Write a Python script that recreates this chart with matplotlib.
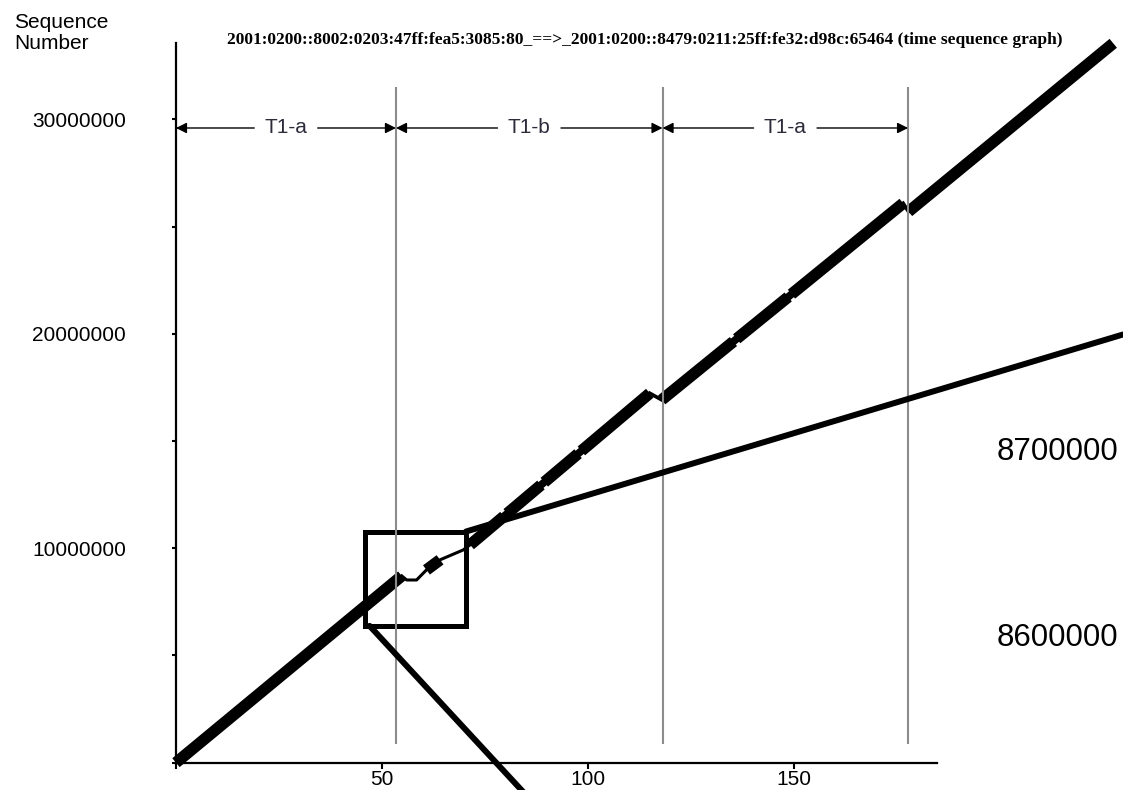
import matplotlib
matplotlib.use("Agg")
import matplotlib.pyplot as plt
from matplotlib.patches import Rectangle, ConnectionPatch

# time (s) / sequence number of the thick trace pieces
seg_time = [[0, 54.8], [60.8, 64.1],
            [71.4, 79.6], [80.4, 88.6], [89.4, 97.6], [98.4, 115.0],
            [117.9, 135.3], [136.1, 148.6], [149.4, 176.5],
            [177.8, 227.5]]
seg_seq = [[0, 8.71e6], [8.99e6, 9.46e6],
           [10.16e6, 11.49e6], [11.62e6, 12.95e6], [13.08e6, 14.41e6], [14.54e6, 17.23e6],
           [16.92e6, 19.64e6], [19.77e6, 21.72e6], [21.85e6, 26.09e6],
           [25.70e6, 33.55e6]]

# thin pieces joining them (handoff stalls and small pauses)
gap_time = [[54.8, 56.0, 58.4, 60.8], [64.1, 69.7, 71.4],
            [79.6, 80.4], [88.6, 89.4], [97.6, 98.4],
            [115.0, 117.9], [135.3, 136.1], [148.6, 149.4], [176.5, 177.8]]
gap_seq = [[8.71e6, 8.52e6, 8.52e6, 8.99e6], [9.46e6, 9.92e6, 10.16e6],
           [11.49e6, 11.62e6], [12.95e6, 13.08e6], [14.41e6, 14.54e6],
           [17.23e6, 16.92e6], [19.64e6, 19.77e6], [21.72e6, 21.85e6], [26.09e6, 25.70e6]]
gap_width = [2.2, 2.2, 5.5, 5.5, 5.5, 2.6, 5.5, 5.5, 2.6]

handoffs = [0, 53.4, 118.1, 177.7]
phase_labels = ["T1-a", "T1-b", "T1-a"]

zoom_x = (46.0, 70.4)
zoom_y = (6.38e6, 10.78e6)
zoom_labels = ["8700000", "8600000"]

title = ("2001:0200::8002:0203:47ff:fea5:3085:80_==>_2001:0200::8479:0211:25ff:"
         "fe32:d98c:65464 (time sequence graph)")

plt.rcParams["font.family"] = ["Liberation Sans", "DejaVu Sans"]

fig = plt.figure(figsize=(11.23, 7.90), dpi=100)
ax = fig.add_axes([0.1567, 0.0346, 0.6776, 0.9114])

for t, s in zip(seg_time, seg_seq):
    ax.plot(t, s, color="black", lw=8.3, solid_capstyle="butt", clip_on=False)
for t, s, w in zip(gap_time, gap_seq, gap_width):
    ax.plot(t, s, color="black", lw=w, clip_on=False)

# handoff markers
ax.vlines(handoffs[1:], 0.87e6, 31.5e6, color="#8c8c8c", lw=1.5)

arrow_y = 29.6e6
for lo, hi, lab in zip(handoffs[:-1], handoffs[1:], phase_labels):
    mid = (lo + hi) / 2
    for end, start in ((lo, mid - 7.7), (hi, mid + 7.7)):
        ax.annotate("", xy=(end, arrow_y), xytext=(start, arrow_y),
                    arrowprops=dict(arrowstyle="-|>", color="black", lw=1,
                                    mutation_scale=16, shrinkA=0, shrinkB=0))
    ax.text(mid, arrow_y, lab, ha="center", va="center", fontsize=15,
            color="#2b2b3a")

ax.set_xlim(0, 184.7)
ax.set_ylim(0, 33.58e6)
for side in ("top", "right"):
    ax.spines[side].set_visible(False)
for side in ("left", "bottom"):
    ax.spines[side].set_linewidth(1.6)

ax.set_xticks([0, 50, 100, 150])
ax.set_xticklabels(["", "50", "100", "150"])
ax.set_yticks([0, 10e6, 20e6, 30e6])
ax.set_yticklabels(["", "10000000", "20000000", "30000000"])
ax.set_yticks([5e6, 15e6, 25e6], minor=True)
ax.tick_params(axis="x", length=4, width=1.5, labelsize=15, pad=1)
ax.tick_params(axis="y", which="both", length=3, width=1.5, labelsize=15, pad=33)

# zoom box and its connectors
ax.add_patch(Rectangle((zoom_x[0], zoom_y[0]), zoom_x[1] - zoom_x[0],
                       zoom_y[1] - zoom_y[0], fill=False, lw=3.6,
                       edgecolor="black", clip_on=False))
fig.add_artist(ConnectionPatch((zoom_x[1], zoom_y[1]), (1.0, 0.5766),
                               coordsA="data", coordsB="figure fraction",
                               axesA=ax, color="black", lw=4.3))
fig.add_artist(ConnectionPatch((zoom_x[0] + 1.0, zoom_y[0]), (0.476, -0.018),
                               coordsA="data", coordsB="figure fraction",
                               axesA=ax, color="black", lw=4.3))

fig.text(997 / 1123, 1 - 452 / 790, zoom_labels[0], fontsize=22.5, va="center")
fig.text(997 / 1123, 1 - 638 / 790, zoom_labels[1], fontsize=22.5, va="center")

fig.text(14 / 1123, 1 - 33 / 790, "Sequence\nNumber", fontsize=15, va="center",
         linespacing=1.15)
fig.text(645 / 1123, 1 - 40 / 790, title, ha="center", va="center",
         family="Liberation Serif", weight="bold", fontsize=12.5)

fig.savefig("out.png", dpi=100)
